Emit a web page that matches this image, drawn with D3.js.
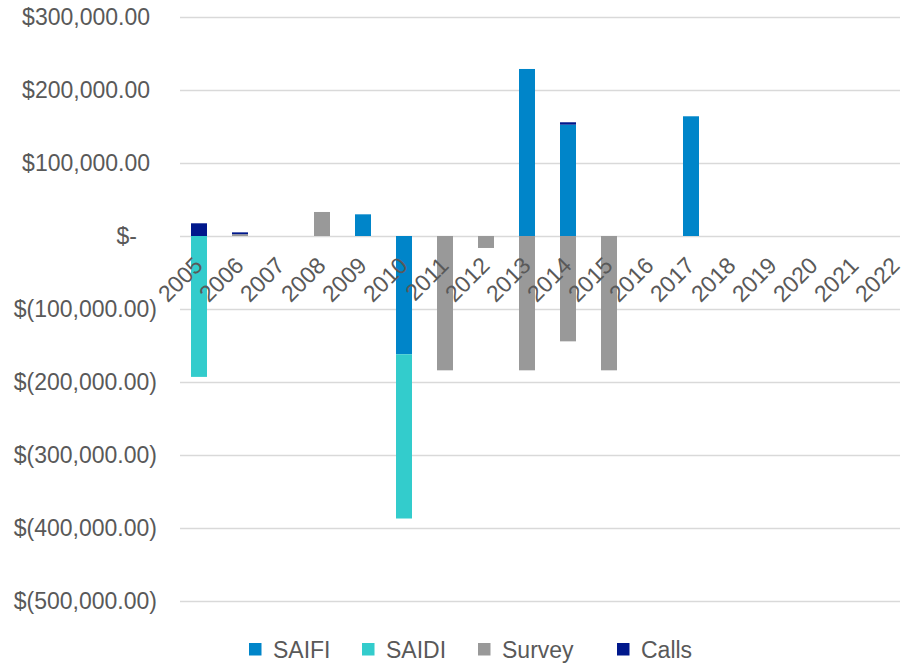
<!DOCTYPE html>
<html>
<head>
<meta charset="utf-8">
<script src="https://cdn.jsdelivr.net/npm/d3@7"></script>
<style>
  html, body { margin: 0; padding: 0; background: #fff; }
  svg { display: block; font-family: "Liberation Sans", Arial, sans-serif; }
</style>
</head>
<body>
<svg id="chart" width="909" height="665"></svg>
<script>
// Yearly values per component (USD)
const years = ["2005","2006","2007","2008","2009","2010","2011","2012","2013","2014","2015","2016","2017","2018","2019","2020","2021","2022"];
const saifi  = [0, 0, 0, 0, 29700, -162000, 0, 0, 228800, 152500, 0, 0, 164000, 0, 0, 0, 0, 0];
const saidi  = [-193000, 0, 0, 0, 0, -225000, 0, 0, 0, 0, 0, 0, 0, 0, 0, 0, 0, 0];
const survey = [0, 2500, 0, 32900, 0, 0, -184000, -16400, -184000, -144300, -184000, 0, 0, 0, 0, 0, 0, 0];
const calls  = [17400, 2500, 0, 0, 0, 0, 0, 0, 0, 3300, 0, 0, 0, 0, 0, 0, 0, 0];

const seriesNames = ["SAIFI", "SAIDI", "Survey", "Calls"];
const seriesColors = ["#0085C9", "#33CCCC", "#999999", "#00188C"];
const yTicks = [300000, 200000, 100000, 0, -100000, -200000, -300000, -400000, -500000];

const rows = years.map((yr, i) => ({
  year: yr, SAIFI: saifi[i], SAIDI: saidi[i], Survey: survey[i], Calls: calls[i]
}));

const svg = d3.select("#chart");
const textColor = "#595959";
const fontSize = 23;

const x = d3.scaleBand()
  .domain(years)
  .range([178.5, 916.5])
  .paddingInner(0.61)
  .paddingOuter(0.305);

const y = d3.scaleLinear()
  .domain([-500000, 300000])
  .range([601, 17]);

const color = d3.scaleOrdinal().domain(seriesNames).range(seriesColors);

// Horizontal gridlines
const gridLeft = 180, gridRight = 900;
const yAxis = d3.axisLeft(y)
  .tickValues(yTicks)
  .tickSize(-(gridRight - gridLeft))
  .tickFormat("");
const gAxis = svg.append("g")
  .attr("transform", `translate(${gridLeft},0)`)
  .call(yAxis);
gAxis.select(".domain").remove();
gAxis.selectAll(".tick line")
  .attr("stroke", "#d9d9d9")
  .attr("stroke-width", 1.5);

// Accounting-style tick labels
const fmt = d3.format(",.2f");
function accounting(v) {
  if (v === 0) return "$-";
  if (v < 0) return "$(" + fmt(-v) + ")";
  return "$" + fmt(v);
}
svg.append("g")
  .selectAll("text")
  .data(yTicks)
  .join("text")
  .attr("x", d => d === 0 ? 137 : (d < 0 ? 157 : 150))
  .attr("y", d => y(d))
  .attr("dy", "0.35em")
  .attr("text-anchor", "end")
  .attr("fill", textColor)
  .attr("font-size", fontSize)
  .text(accounting);

// Stacked bars, positives up and negatives down
const stack = d3.stack()
  .keys(seriesNames)
  .offset(d3.stackOffsetDiverging);
const stacked = stack(rows);

svg.append("g")
  .selectAll("g")
  .data(stacked)
  .join("g")
  .attr("fill", d => color(d.key))
  .selectAll("rect")
  .data(d => d.filter(p => p[1] - p[0] !== 0))
  .join("rect")
  .attr("x", d => x(d.data.year))
  .attr("width", x.bandwidth())
  .attr("y", d => y(Math.max(d[0], d[1])))
  .attr("height", d => Math.abs(y(d[0]) - y(d[1])));

// Category labels, rotated
svg.append("g")
  .selectAll("text")
  .data(years)
  .join("text")
  .attr("transform", d => `translate(${x(d) + x.bandwidth() / 2 + 5},267) rotate(-45)`)
  .attr("text-anchor", "end")
  .attr("fill", textColor)
  .attr("font-size", fontSize)
  .text(d => d);

// Legend
const legendX = [249, 362, 478, 617];
const legend = svg.append("g")
  .selectAll("g")
  .data(seriesNames)
  .join("g")
  .attr("transform", (d, i) => `translate(${legendX[i]},643)`);
legend.append("rect")
  .attr("width", 12.5)
  .attr("height", 12.5)
  .attr("fill", d => color(d));
legend.append("text")
  .attr("x", 24)
  .attr("y", 15)
  .attr("fill", textColor)
  .attr("font-size", fontSize)
  .text(d => d);
</script>
</body>
</html>
